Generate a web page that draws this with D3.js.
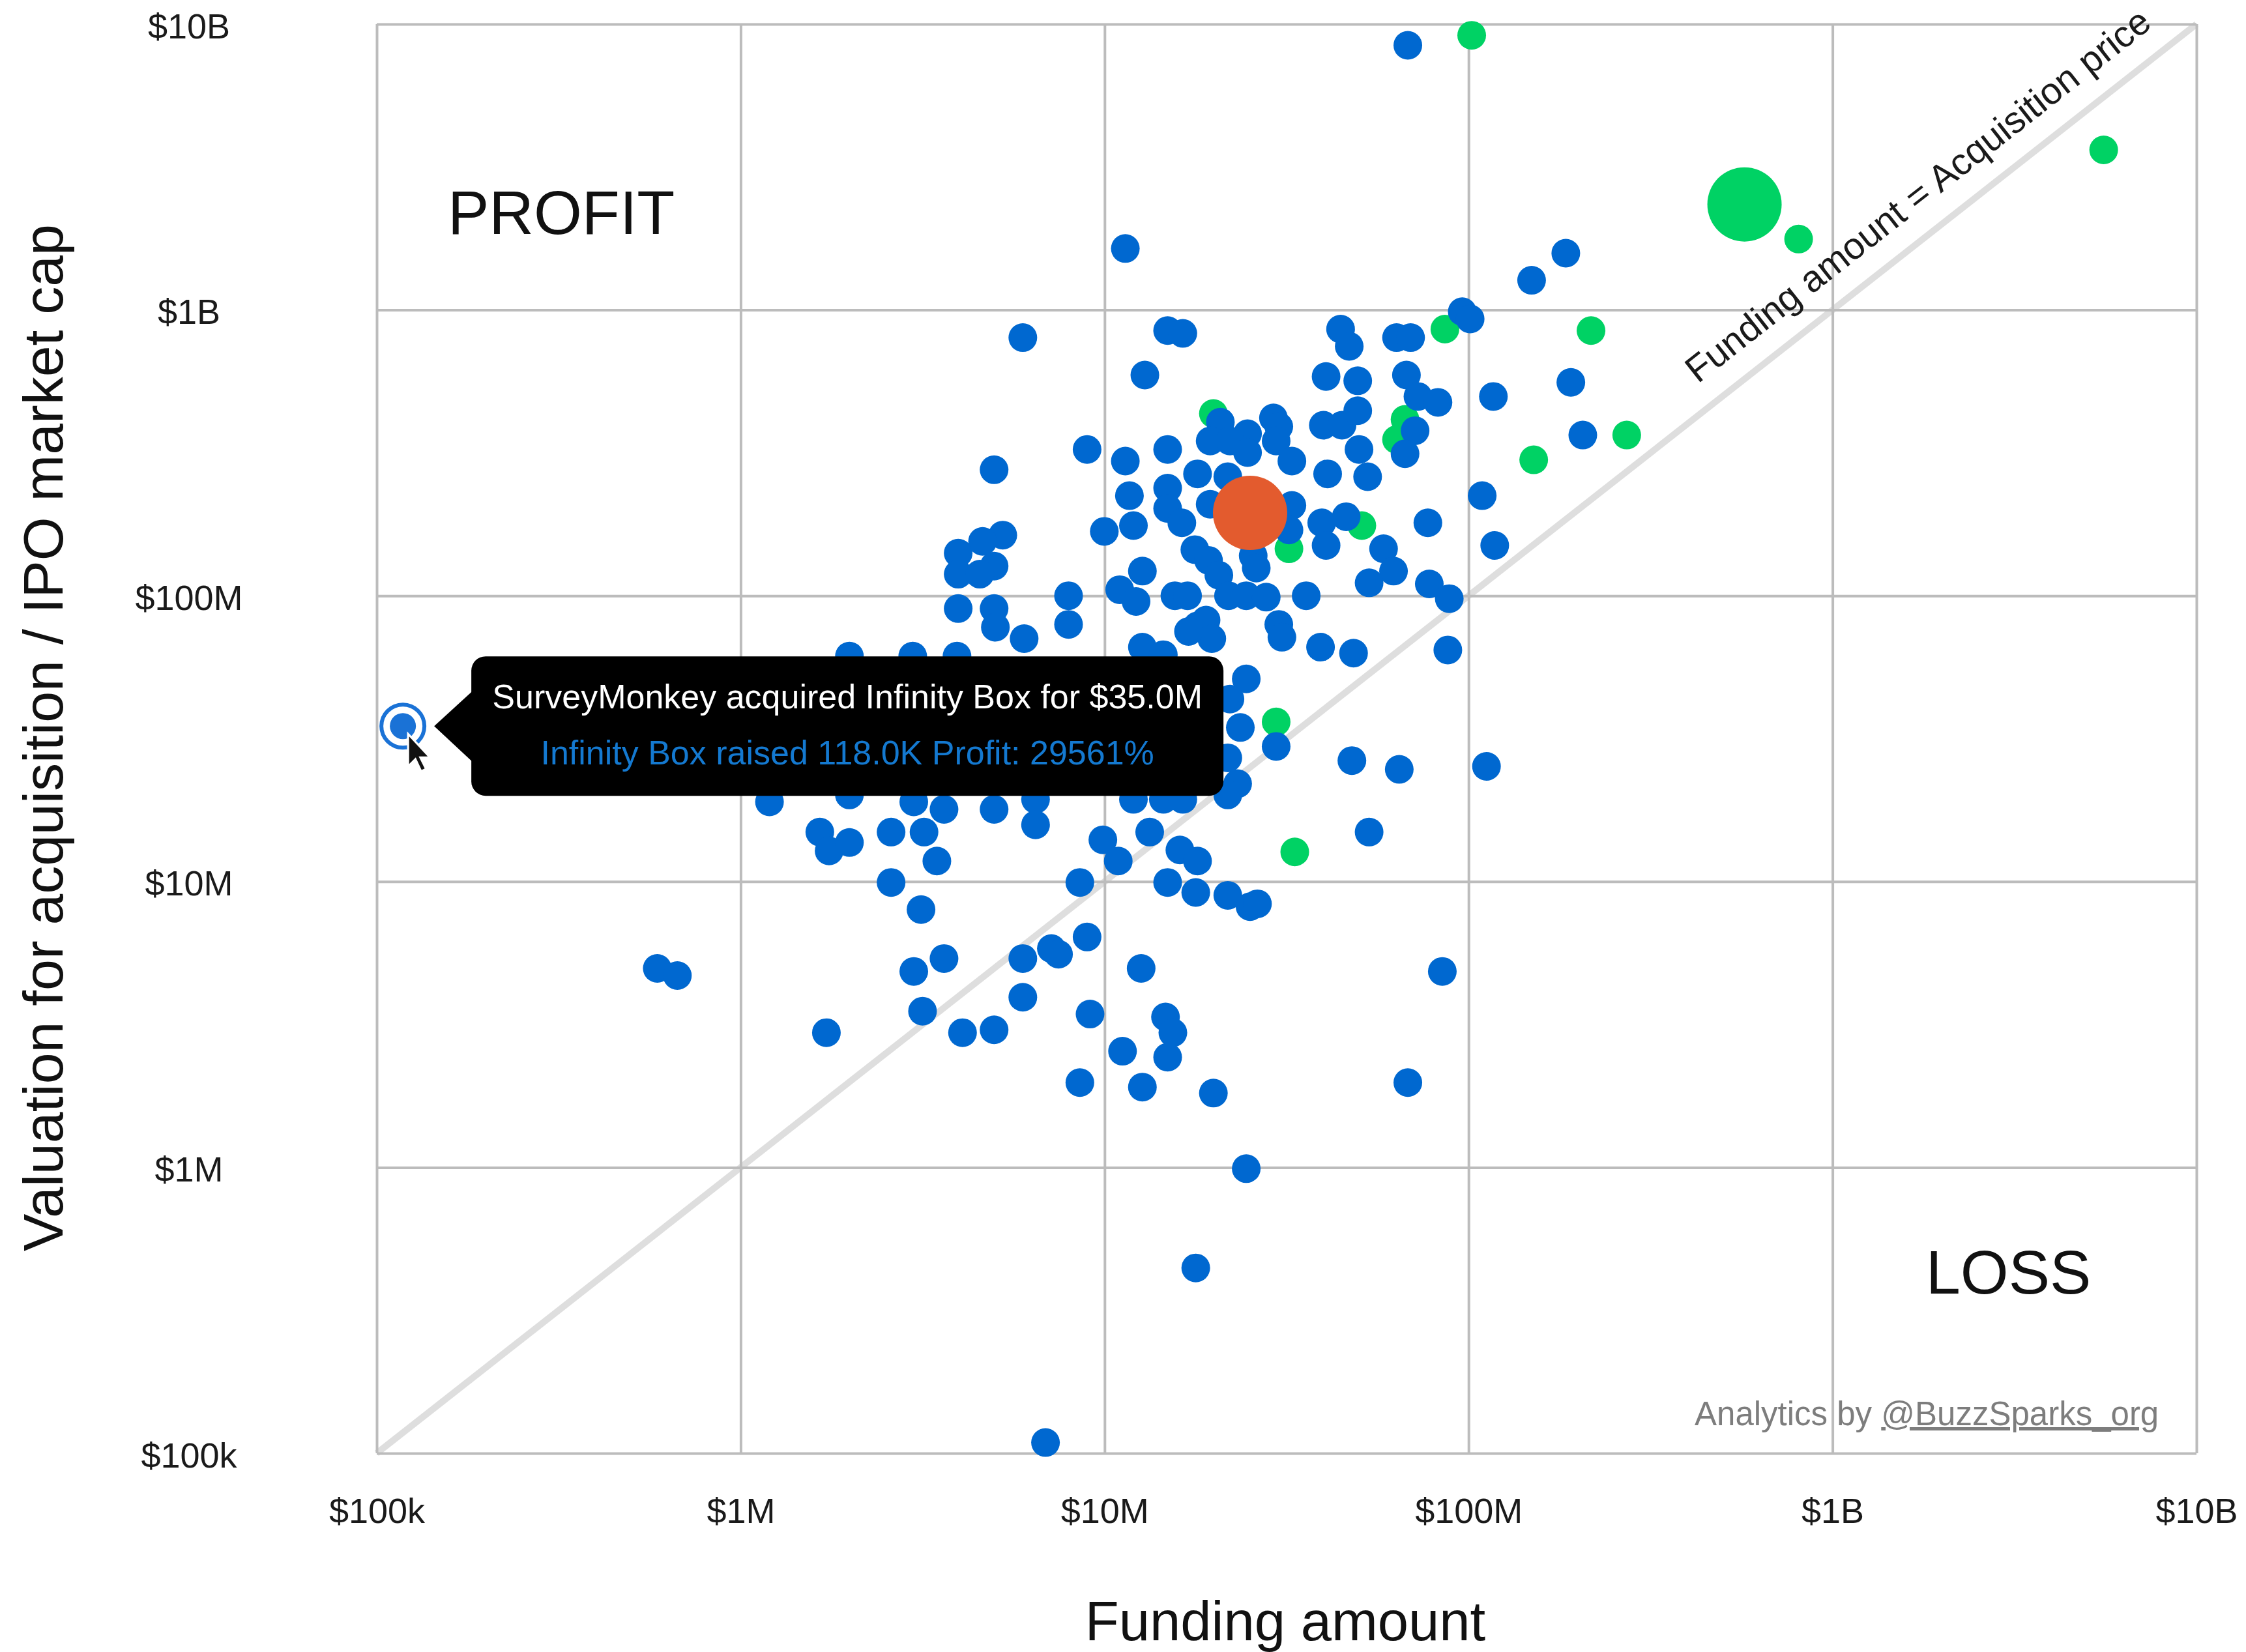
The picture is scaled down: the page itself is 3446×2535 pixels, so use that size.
<!DOCTYPE html>
<html>
<head>
<meta charset="utf-8">
<script src="https://cdn.jsdelivr.net/npm/d3@7"></script>
<style>
  body { margin: 0; background: #fff; }
  text { font-family: "Liberation Sans", Arial, Helvetica, sans-serif; }
</style>
</head>
<body>
<svg id="chart" width="3446" height="2535"></svg>
<script>
// [funding $M, valuation $M]
const blueDeals = [
  [68.1, 8430], [11.4, 1640], [185, 1580], [149, 1270], [96.1, 986], [101, 930], [5.96, 800], [14.9, 847],
  [16.4, 828], [44.5, 857], [47.0, 746], [63.4, 800], [69.3, 800], [12.9, 592], [40.6, 585], [49.6, 565],
  [67.5, 592], [72.6, 498], [82.4, 475], [117, 498], [191, 558], [206, 365], [20.8, 405], [29.1, 419],
  [30.1, 391], [24.7, 369], [19.5, 348], [22.1, 348], [24.7, 317], [29.6, 348], [32.7, 296], [39.9, 395],
  [44.9, 395], [49.6, 444], [50.0, 325], [71.3, 378], [66.9, 314], [8.95, 325], [11.4, 296], [14.9, 325],
  [18.0, 267], [21.8, 261], [41.0, 267], [52.8, 261], [109, 224], [11.7, 224], [14.9, 238], [14.9, 202],
  [16.3, 180], [19.5, 209], [32.7, 207], [32.1, 170], [39.5, 180], [46.1, 189], [40.6, 150], [77.3, 180],
  [118, 150], [58.4, 146], [62.2, 122], [53.3, 111], [78.0, 110], [88.5, 97.7], [9.98, 168], [12.0, 176],
  [17.7, 145], [19.3, 133], [20.6, 118], [25.6, 138], [26.1, 125], [12.7, 122], [11.0, 105], [12.2, 95.5],
  [7.96, 100], [7.96, 79.4], [15.6, 100], [16.9, 100], [21.9, 100], [24.5, 100], [27.8, 98.9], [35.8, 100],
  [18.0, 78.5], [19.0, 82.2], [19.7, 70.8], [17.0, 75.0], [30.1, 79.4], [30.7, 71.6], [12.7, 66.1], [14.5, 62.2],
  [39.2, 66.1], [48.3, 63.0], [87.7, 64.6], [4.97, 276], [5.25, 163], [4.62, 155], [3.96, 141], [4.97, 127],
  [3.96, 119], [4.54, 119], [3.96, 90.2], [4.97, 90.2], [5.01, 77.6], [6.01, 70.8], [1.99, 61.5], [2.97, 61.5],
  [3.93, 61.5], [24.5, 51.2], [22.1, 43.5], [23.6, 34.6], [21.8, 27.1], [23.2, 22.0], [21.8, 20.1], [29.6, 29.7],
  [47.8, 26.5], [64.5, 24.7], [112, 25.3], [1.20, 19.0], [1.99, 20.1], [2.99, 19.0], [3.62, 17.9], [4.97, 17.9],
  [6.46, 19.4], [12.0, 19.4], [14.5, 19.4], [16.4, 19.4], [1.65, 14.9], [1.75, 12.8], [1.99, 13.7], [2.59, 14.9],
  [3.19, 14.9], [3.46, 11.8], [6.46, 15.8], [9.89, 14.0], [10.9, 11.8], [13.3, 14.9], [16.1, 12.9], [18.0, 11.8],
  [2.59, 9.93], [3.13, 7.98], [8.55, 9.93], [14.9, 9.93], [17.8, 9.16], [21.8, 8.95], [25.1, 8.17], [26.3, 8.36],
  [53.3, 14.9], [8.95, 6.40], [7.14, 5.83], [7.47, 5.57], [5.96, 5.38], [3.62, 5.38], [2.99, 4.85], [12.6, 4.97],
  [84.7, 4.85], [5.96, 3.94], [3.16, 3.52], [1.72, 2.96], [4.07, 2.96], [4.97, 3.03], [9.12, 3.44], [14.7, 3.36],
  [15.4, 2.96], [14.9, 2.43], [11.2, 2.55], [8.55, 1.98], [12.7, 1.91], [19.9, 1.82], [68.1, 1.98], [24.5, 0.99],
  [17.8, 0.445], [6.88, 0.109], [0.59, 4.97], [0.67, 4.69]
];
const greenDeals = [
  [102, 9140], [807, 1770], [5560, 3630], [86.1, 857], [217, 847], [19.9, 434], [66.9, 414], [63.4, 352],
  [151, 299], [272, 365], [50.9, 176], [32.1, 146], [29.6, 36.2], [33.3, 12.7]
];
const bigGreenDeals = [[573, 2340]];
const orangeDeals = [[25.1, 195]];
const highlightDeal = { acquirer: 'SurveyMonkey', company: 'Infinity Box', funding: 0.118, valuation: 35.0 };

const tickValues = [1e5, 1e6, 1e7, 1e8, 1e9, 1e10];
const xTickLabels = ['$100k', '$1M', '$10M', '$100M', '$1B', '$10B'];
const yTickLabels = ['$100k', '$1M', '$10M', '$100M', '$1B', '$10B'];

const svg = d3.select('#chart');
const margin = { left: 578, right: 76, top: 37, bottom: 305 };
const width = 3446 - margin.left - margin.right;
const height = 2535 - margin.top - margin.bottom;

const x = d3.scaleLog().domain([1e5, 1e10]).range([0, width]);
const y = d3.scaleLog().domain([1e5, 1e10]).range([height, 0]);

svg.append('rect').attr('width', 3446).attr('height', 2535).attr('fill', '#fff');
const g = svg.append('g').attr('transform', `translate(${margin.left},${margin.top})`);

// diagonal: funding = price
g.append('line')
    .attr('x1', x(1e5)).attr('y1', y(1e5))
    .attr('x2', x(1e10)).attr('y2', y(1e10))
    .attr('stroke', '#dedede')
    .attr('stroke-width', 10);

// grid + tick labels
const xAxis = d3.axisBottom(x).tickValues(tickValues).tickSize(-height).tickFormat((d, i) => xTickLabels[i]);
const gx = g.append('g').attr('transform', `translate(0,${height})`).call(xAxis);
gx.select('.domain').remove();
gx.selectAll('.tick line').attr('stroke', '#bcbcbc').attr('stroke-width', 4);
gx.selectAll('.tick text')
    .attr('y', 107).attr('dy', 0)
    .attr('font-size', 54).attr('fill', '#1a1a1a');

const yAxis = d3.axisLeft(y).tickValues(tickValues).tickSize(-width).tickFormat((d, i) => yTickLabels[i]);
const gy = g.append('g').call(yAxis);
gy.select('.domain').remove();
gy.selectAll('.tick line').attr('stroke', '#bcbcbc').attr('stroke-width', 4);
gy.selectAll('.tick text')
    .attr('x', -288).attr('dy', 21)
    .attr('text-anchor', 'middle')
    .attr('font-size', 54).attr('fill', '#1a1a1a');

// diagonal label
const angle = Math.atan2(y(1e5) - y(1e10), x(1e10) - x(1e5)) * 180 / Math.PI;
g.append('text')
    .attr('transform', `translate(${x(4.7e8)},${y(4.7e8)}) rotate(${-angle})`)
    .attr('y', -38)
    .attr('font-size', 57)
    .attr('fill', '#1a1a1a')
    .text('Funding amount = Acquisition price');

// quadrant labels
g.append('text').attr('x', 109).attr('y', 322).attr('font-size', 95).attr('fill', '#111').text('PROFIT');
g.append('text').attr('x', 2377).attr('y', 1948).attr('font-size', 95).attr('fill', '#111').text('LOSS');

const credit = g.append('text').attr('x', 2022).attr('y', 2150).attr('font-size', 51).attr('fill', '#7d7d7d');
credit.append('tspan').text('Analytics by ');
credit.append('tspan').attr('text-decoration', 'underline').text('@BuzzSparks_org');

// points
function dots(data, color, r) {
    g.append('g').selectAll('circle')
        .data(data)
        .join('circle')
        .attr('cx', d => x(d[0] * 1e6))
        .attr('cy', d => y(d[1] * 1e6))
        .attr('r', r)
        .attr('fill', color);
}
dots(greenDeals, '#00d264', 22);
dots(bigGreenDeals, '#00d264', 57);
dots(blueDeals, '#0068d0', 22);
dots(orangeDeals, '#e35b2e', 57);

// hovered point + tooltip
const hx = x(highlightDeal.funding * 1e6);
const hy = y(highlightDeal.valuation * 1e6);
const hl = g.append('g');
hl.append('circle').attr('cx', hx).attr('cy', hy).attr('r', 33)
    .attr('fill', '#fff').attr('stroke', '#1a72d6').attr('stroke-width', 6);
hl.append('circle').attr('cx', hx).attr('cy', hy).attr('r', 20).attr('fill', '#1a72d6');

const tipLeft = hx + 105, tipW = 1154, tipH = 214;
const tip = g.append('g');
tip.append('rect')
    .attr('x', tipLeft).attr('y', hy - tipH / 2)
    .attr('width', tipW).attr('height', tipH)
    .attr('rx', 22).attr('fill', '#000');
tip.append('path')
    .attr('d', d3.line()([[tipLeft + 2, hy - 54], [hx + 48, hy], [tipLeft + 2, hy + 55]]))
    .attr('fill', '#000');

const profit = Math.round((highlightDeal.valuation / highlightDeal.funding - 1) * 100);
tip.append('text')
    .attr('x', tipLeft + tipW / 2).attr('y', hy - 27)
    .attr('text-anchor', 'middle').attr('font-size', 52).attr('fill', '#fff')
    .text(`${highlightDeal.acquirer} acquired ${highlightDeal.company} for $${highlightDeal.valuation.toFixed(1)}M`);
tip.append('text')
    .attr('x', tipLeft + tipW / 2).attr('y', hy + 59)
    .attr('text-anchor', 'middle').attr('font-size', 52).attr('fill', '#1479d0')
    .text(`${highlightDeal.company} raised ${(highlightDeal.funding * 1000).toFixed(1)}K Profit: ${profit}%`);

// mouse pointer
g.append('path')
    .attr('transform', `translate(${hx + 8},${hy + 12}) scale(1.25)`)
    .attr('d', 'M0,0 L0,40 L9,31 L16,46 L22,43 L15,29 L27,29 Z')
    .attr('fill', '#111').attr('stroke', '#fff').attr('stroke-width', 2.5);

// axis titles
svg.append('text')
    .attr('x', 1972).attr('y', 2517)
    .attr('text-anchor', 'middle').attr('font-size', 85).attr('fill', '#111')
    .text('Funding amount');
svg.append('text')
    .attr('transform', 'translate(96,1132) rotate(-90)')
    .attr('text-anchor', 'middle').attr('font-size', 86).attr('fill', '#111')
    .text('Valuation for acquisition / IPO market cap');
</script>
</body>
</html>
